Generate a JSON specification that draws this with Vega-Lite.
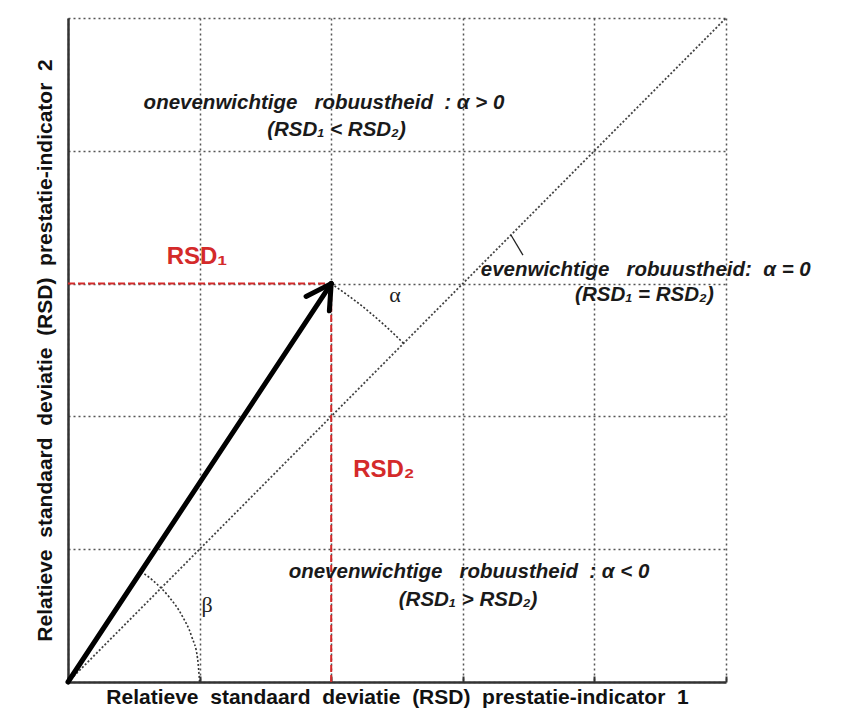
{
  "$schema": "https://vega.github.io/schema/vega-lite/v6.json",
  "width": 658,
  "height": 664,
  "autosize": {"type": "none"},
  "padding": {"left": 68, "top": 18, "right": 116, "bottom": 40},
  "background": "white",
  "config": {"view": {"stroke": null}},
  "datasets": {
    "diagonal": [{"x": 0, "y": 0, "x2": 5, "y2": 5}],
    "red": [
      {"x": 0, "y": 3, "x2": 2, "y2": 3},
      {"x": 2, "y": 0, "x2": 2, "y2": 3}
    ],
    "arrow": [
      {"x": 0, "y": 0, "x2": 2, "y2": 3},
      {"x": 1.809, "y": 2.903, "x2": 2, "y2": 3},
      {"x": 1.986, "y": 2.795, "x2": 2, "y2": 3}
    ],
    "pointer": [{"x": 3.366, "y": 3.366, "x2": 3.457, "y2": 3.215}],
    "arcs": [
      {"arc": "alpha", "order": 1, "x": 2.0, "y": 3.0},
      {"arc": "alpha", "order": 2, "x": 2.119, "y": 2.917},
      {"arc": "alpha", "order": 3, "x": 2.22, "y": 2.842},
      {"arc": "alpha", "order": 4, "x": 2.318, "y": 2.762},
      {"arc": "alpha", "order": 5, "x": 2.413, "y": 2.68},
      {"arc": "alpha", "order": 6, "x": 2.55, "y": 2.55},
      {"arc": "beta", "order": 1, "x": 1.0, "y": 0.0},
      {"arc": "beta", "order": 2, "x": 0.985, "y": 0.174},
      {"arc": "beta", "order": 3, "x": 0.94, "y": 0.342},
      {"arc": "beta", "order": 4, "x": 0.866, "y": 0.5},
      {"arc": "beta", "order": 5, "x": 0.766, "y": 0.643},
      {"arc": "beta", "order": 6, "x": 0.643, "y": 0.766},
      {"arc": "beta", "order": 7, "x": 0.555, "y": 0.832}
    ],
    "notes": [
      {"x": 1.945, "y": 4.36, "label": "onevenwichtige\u00a0\u00a0 robuustheid\u00a0\u00a0: α > 0"},
      {"x": 2.04, "y": 4.157, "label": "(RSD₁ < RSD₂)"},
      {"x": 4.39, "y": 3.1, "label": "evenwichtige\u00a0\u00a0 robuustheid:\u00a0\u00a0α = 0"},
      {"x": 4.38, "y": 2.914, "label": "(RSD₁ = RSD₂)"},
      {"x": 3.047, "y": 0.828, "label": "onevenwichtige\u00a0\u00a0 robuustheid\u00a0\u00a0: α < 0"},
      {"x": 3.04, "y": 0.617, "label": "(RSD₁ > RSD₂)"}
    ],
    "redlabels": [
      {"x": 0.98, "y": 3.2, "label": "RSD₁"},
      {"x": 2.4, "y": 1.596, "label": "RSD₂"}
    ],
    "greek": [
      {"x": 2.485, "y": 2.914, "label": "α"},
      {"x": 1.056, "y": 0.58, "label": "β"}
    ]
  },
  "encoding": {
    "x": {
      "field": "x",
      "type": "quantitative",
      "scale": {"domain": [0, 5], "nice": false, "zero": false},
      "axis": {
        "title": "Relatieve\u00a0 standaard\u00a0 deviatie\u00a0 (RSD)\u00a0 prestatie-indicator\u00a0 1",
        "values": [0, 1, 2, 3, 4, 5],
        "labels": false,
        "ticks": true,
        "tickSize": -6,
        "tickColor": "#333",
        "tickWidth": 2,
        "domainColor": "#333",
        "domainWidth": 2.5,
        "grid": true,
        "gridDash": [2, 3],
        "gridColor": "#555",
        "gridWidth": 1.5,
        "titleFont": "Liberation Sans",
        "titleFontSize": 21,
        "titleFontWeight": "bold",
        "titleColor": "#111",
        "titlePadding": 3
      }
    },
    "y": {
      "field": "y",
      "type": "quantitative",
      "scale": {"domain": [0, 5], "nice": false, "zero": false},
      "axis": {
        "title": "Relatieve\u00a0 standaard\u00a0 deviatie\u00a0 (RSD)\u00a0 prestatie-indicator\u00a0 2",
        "values": [0, 1, 2, 3, 4, 5],
        "labels": false,
        "ticks": false,
        "domainColor": "#333",
        "domainWidth": 2.5,
        "grid": true,
        "gridDash": [2, 3],
        "gridColor": "#555",
        "gridWidth": 1.5,
        "titleFont": "Liberation Sans",
        "titleFontSize": 21,
        "titleFontWeight": "bold",
        "titleColor": "#111",
        "titlePadding": 13
      }
    }
  },
  "layer": [
    {
      "data": {"name": "diagonal"},
      "mark": {"type": "rule", "color": "#444", "strokeWidth": 1.8, "strokeDash": [2, 2]},
      "encoding": {"x2": {"field": "x2"}, "y2": {"field": "y2"}}
    },
    {
      "data": {"name": "red"},
      "mark": {"type": "rule", "color": "#d42a2a", "strokeWidth": 2, "strokeDash": [7, 3]},
      "encoding": {"x2": {"field": "x2"}, "y2": {"field": "y2"}}
    },
    {
      "data": {"name": "arcs"},
      "mark": {"type": "line", "color": "#333", "strokeWidth": 1.6, "strokeDash": [2, 2], "interpolate": "monotone"},
      "encoding": {
        "order": {"field": "order", "type": "quantitative"},
        "detail": {"field": "arc", "type": "nominal"}
      }
    },
    {
      "data": {"name": "pointer"},
      "mark": {"type": "rule", "color": "#222", "strokeWidth": 1.3},
      "encoding": {"x2": {"field": "x2"}, "y2": {"field": "y2"}}
    },
    {
      "data": {"name": "arrow"},
      "mark": {"type": "rule", "color": "#000", "strokeWidth": 5, "strokeCap": "round"},
      "encoding": {"x2": {"field": "x2"}, "y2": {"field": "y2"}}
    },
    {
      "data": {"name": "notes"},
      "mark": {"type": "text", "font": "Liberation Sans", "fontSize": 20.5, "fontStyle": "italic", "fontWeight": "bold", "color": "#1a1a1a", "align": "center", "baseline": "middle"},
      "encoding": {"text": {"field": "label"}}
    },
    {
      "data": {"name": "redlabels"},
      "mark": {"type": "text", "font": "Liberation Sans", "fontSize": 24, "fontWeight": "bold", "color": "#d42a2a", "align": "center", "baseline": "middle"},
      "encoding": {"text": {"field": "label"}}
    },
    {
      "data": {"name": "greek"},
      "mark": {"type": "text", "font": "Liberation Serif", "fontSize": 22, "color": "#222", "align": "center", "baseline": "middle"},
      "encoding": {"text": {"field": "label"}}
    }
  ]
}
